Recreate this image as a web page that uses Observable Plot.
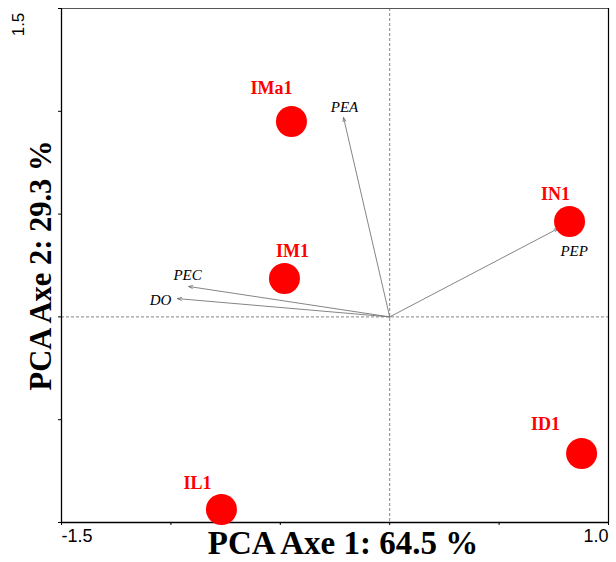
<!DOCTYPE html>
<html><head><meta charset="utf-8">
<script src="https://cdn.jsdelivr.net/npm/d3@7"></script>
<script src="https://cdn.jsdelivr.net/npm/@observablehq/plot@0.6"></script>
<style>body{margin:0;background:#fff}</style>
</head><body><div id="chart"></div>
<script>
// PCA scores (sites)
const sites = ["IMa1", "IN1", "IM1", "ID1", "IL1"];
const axe1 = [-0.449, 0.822, -0.481, 0.877, -0.769];
const axe2 = [0.950, 0.464, 0.187, -0.664, -0.937];
// PCA loadings (variables)
const variables = ["PEA", "PEP", "PEC", "DO"];
const load1 = [-0.211, 0.77, -0.919, -0.970];
const load2 = [0.970, 0.43, 0.148, 0.089];
// ticks
const xTicks = [-1.5, -1, -0.5, 0, 0.5, 1];
const yTicks = [-1, -0.5, 0, 0.5, 1, 1.5];
const xTickLabelsStart = [-1.5];
const xTickLabelsEnd = [1.0];
const yTickLabels = [1.5];
const xTitle = "PCA Axe 1: 64.5 %";
const yTitle = "PCA Axe 2: 29.3 %";

const scores = sites.map((s, i) => ({site: s, x: axe1[i], y: axe2[i]}));
const loadings = variables.map((v, i) => ({v, x: load1[i], y: load2[i]}));

// label offsets (styling, pixels)
const siteOffset = {IMa1: [-20, -33], IN1: [-14, -27], IM1: [8, -27], ID1: [-36, -29], IL1: [-24, -26]};
const varOffset = {PEA: [1, -10], PEP: [16, 23], PEC: [-1, -11], DO: [-17, 2]};

const serif = "'Liberation Serif', 'Times New Roman', serif";
const fmt = d => d.toFixed(1);

const marks = [
  Plot.ruleX([0], {stroke: "#666", strokeDasharray: "3,2", strokeWidth: 0.8}),
  Plot.ruleY([0], {stroke: "#666", strokeDasharray: "3,2", strokeWidth: 0.8}),
  Plot.frame({stroke: "#555", strokeWidth: 1}),
  Plot.ruleX([1], {stroke: "#000", strokeWidth: 1.2}),
  Plot.ruleX([-1.5], {stroke: "#000", strokeWidth: 1.3}),
  Plot.ruleY([-1], {stroke: "#000", strokeWidth: 1.3}),
  Plot.axisX(xTicks, {tickSize: 3, tickFormat: () => "", label: null}),
  Plot.axisY(yTicks, {tickSize: 3, tickFormat: () => "", label: null}),
  Plot.text(xTickLabelsStart, {x: d => d, frameAnchor: "bottom", dy: 19, textAnchor: "start", text: fmt, fontSize: 18, fill: "#000"}),
  Plot.text(xTickLabelsEnd, {x: d => d, frameAnchor: "bottom", dy: 19, textAnchor: "end", text: fmt, fontSize: 18, fill: "#000"}),
  Plot.text(yTickLabels, {y: d => d, frameAnchor: "left", dx: -43, dy: 16, rotate: -90, textAnchor: "middle", text: fmt, fontSize: 17, fill: "#000"}),
  Plot.arrow(loadings, {x1: () => 0, y1: () => 0, x2: "x", y2: "y", stroke: "#777", strokeWidth: 0.9, headLength: 7, headAngle: 40}),
  Plot.dot(scores, {x: "x", y: "y", r: 15.5, fill: "#ff0000", stroke: "none"}),
  Plot.text([xTitle], {frameAnchor: "bottom", dx: 8, dy: 31, textAnchor: "middle", text: d => d, fontSize: 33, fontWeight: "bold", fontFamily: serif, fill: "#000"}),
  Plot.text([yTitle], {frameAnchor: "left", dx: -20, rotate: -90, textAnchor: "middle", text: d => d, fontSize: 30.5, fontWeight: "bold", fontFamily: serif, fill: "#000"})
];

for (const s of sites) {
  const [dx, dy] = siteOffset[s];
  marks.push(Plot.text(scores.filter(d => d.site === s), {
    x: "x", y: "y", text: "site", dx, dy, fill: "#ff0000", fontWeight: "bold", fontFamily: serif, fontSize: 18
  }));
}
for (const v of variables) {
  const [dx, dy] = varOffset[v];
  marks.push(Plot.text(loadings.filter(d => d.v === v), {
    x: "x", y: "y", text: "v", dx, dy, fill: "#000", fontStyle: "italic", fontFamily: serif, fontSize: 15
  }));
}

const chart = Plot.plot({
  width: 616,
  height: 562,
  marginLeft: 61,
  marginRight: 8,
  marginTop: 8,
  marginBottom: 40,
  x: {domain: [-1.5, 1.0], axis: null},
  y: {domain: [-1.0, 1.5], axis: null},
  style: {fontFamily: "'Liberation Sans', Arial, sans-serif", fontSize: "17px", background: "#fff", overflow: "visible"},
  marks
});
document.getElementById("chart").appendChild(chart);
</script>
</body></html>
